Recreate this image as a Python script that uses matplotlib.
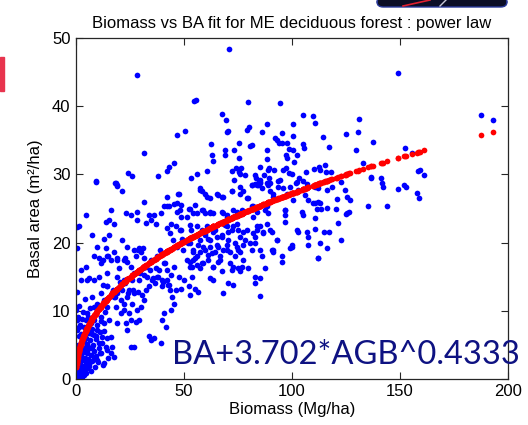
import numpy as np
import matplotlib
matplotlib.use("Agg")
import matplotlib.pyplot as plt
from matplotlib.patches import Rectangle, FancyBboxPatch
from matplotlib.lines import Line2D

# ---- field plots: above-ground biomass (Mg/ha) and basal area (m2/ha) ----
agb_high = [70.8, 28.4, 54.6, 55.5, 79.6, 67.7, 69.4, 69.8, 70.4, 79.0, 80.2, 46.9, 50.3, 62.3,
            75.3, 80.6, 81.6, 31.6, 62.8, 69.0, 69.0, 73.1, 75.3, 63.4, 45.5, 42.9, 42.3, 60.5,
            72.2, 74.2, 75.5, 76.4, 76.0, 78.3, 73.1, 24.1, 26.1, 38.1, 53.1, 55.9, 9.3, 17.9,
            18.8, 81.6]
ba_high = [48.3, 44.5, 40.7, 40.9, 40.6, 38.8, 37.9, 36.2, 36.3, 36.5, 36.9, 35.7, 36.3, 34.4,
           34.6, 34.1, 34.3, 33.2, 32.9, 33.5, 32.9, 33.5, 32.4, 31.9, 31.6, 31.1, 30.5, 30.5,
           30.5, 30.9, 30.3, 30.9, 30.1, 29.9, 29.2, 30.2, 29.7, 29.7, 29.5, 30.0, 29.0, 28.7,
           28.5, 28.4]

agb_right = [149.2, 94.6, 187.3, 193.1, 104.9, 109.9, 110.5, 130.9, 100.6, 88.6, 86.1, 95.5,
             100.5, 124.8, 130.4, 114.2, 92.1, 92.9, 94.0, 95.4, 97.7, 105.2, 105.7, 117.0,
             137.5, 98.8, 100.6, 88.6, 129.5, 152.3, 155.7, 97.1, 97.5, 102.2, 88.3, 100.8,
             132.7, 85.3, 89.4, 89.0, 91.5, 96.0, 97.1, 98.5, 100.2, 110.3, 113.0, 112.6,
             115.4, 115.6, 118.0, 106.3, 103.1, 158.2, 159.4, 161.3, 141.2, 136.7, 141.7,
             87.2, 83.0, 83.3, 84.6, 85.4, 83.0, 84.2, 89.3, 89.9, 93.4, 102.0, 105.1, 106.9,
             122.8, 152.0]
ba_right = [44.9, 40.4, 38.7, 38.0, 38.7, 38.5, 37.5, 38.1, 37.3, 37.3, 36.2, 36.0,
            35.6, 35.9, 36.2, 35.5, 35.3, 35.0, 34.6, 34.6, 34.6, 34.4, 33.8, 34.0,
            34.8, 33.7, 33.5, 33.5, 33.5, 33.8, 33.1, 32.8, 32.4, 32.9, 32.2, 31.8,
            31.6, 31.1, 31.0, 30.6, 30.7, 30.7, 31.0, 30.2, 30.1, 30.8, 30.6, 31.1,
            31.3, 30.4, 30.4, 30.3, 29.5, 30.5, 30.7, 29.9, 29.5, 29.5, 28.7,
            29.9, 29.9, 29.4, 29.1, 28.8, 28.6, 28.5, 29.4, 28.8, 29.1, 28.7, 29.0, 28.6,
            28.9, 28.4]

agb_mid_right = [136.6, 142.3, 149.2, 152.9, 157.9, 159.0, 118.4, 116.0, 111.9, 124.5, 125.3,
                 126.7, 120.7, 112.2, 110.6, 113.3, 116.0, 120.2, 135.0, 144.0, 124.9, 125.6,
                 126.4, 121.4, 115.0, 117.3, 122.5, 113.1, 116.0, 112.2, 110.6, 110.6]
ba_mid_right = [29.6, 28.1, 27.8, 28.1, 27.3, 26.6, 28.2, 27.7, 28.0, 27.7, 26.7,
                26.2, 26.4, 26.0, 25.8, 24.9, 25.1, 24.9, 25.4, 25.3, 24.2, 24.4,
                24.5, 22.9, 21.5, 21.6, 20.4, 20.0, 19.2, 17.8, 23.6, 22.0]

agb_mid = [57.4, 58.2, 59.7, 62.0, 65.9, 67.4, 72.1, 75.9, 77.5, 79.8, 81.3, 85.2, 86.0,
           89.0, 89.8, 91.4, 93.7, 96.0, 97.5, 99.1, 102.2, 103.0, 106.0, 107.6, 110.6,
           52.8, 55.1, 55.9, 58.2, 59.7, 62.0, 63.6, 68.2, 69.8, 70.5, 74.4, 76.7, 81.3,
           83.6, 88.3, 89.0, 96.8, 96.8, 104.5, 105.3, 109.9, 111.4, 113.0,
           52.8, 55.9, 58.2, 59.7, 61.3, 63.6, 65.1, 67.4, 69.8, 70.5, 72.8, 75.2, 77.5,
           78.2, 82.1, 83.6, 85.2, 86.7, 90.6, 92.9, 96.8, 103.0, 106.8, 107.6,
           52.8, 54.3, 55.1, 56.6, 57.4, 59.7, 61.3, 62.0, 64.4, 65.1, 66.7, 68.2, 69.8,
           71.3, 73.6, 74.4, 75.9, 77.5, 81.3, 82.9, 86.0, 90.6, 91.4, 95.2, 99.1, 99.9,
           107.6, 112.2,
           52.8, 54.3, 55.9, 57.4, 59.0, 61.3, 63.6, 65.9, 67.4, 71.3, 72.1, 75.2, 76.7,
           75.9, 79.8, 82.9, 85.2, 87.5, 62.0, 53.5,
           55.1, 56.6, 63.6, 68.2, 70.5, 72.8, 82.9, 85.2, 52.8]
ba_mid = [28.0, 27.5, 27.2, 26.5, 27.0, 26.7, 27.5, 28.2, 27.5, 26.5, 28.4, 28.9, 28.0,
          28.4, 27.5, 26.7, 28.2, 28.0, 27.2, 28.2, 28.9, 27.7, 27.0, 26.3, 28.2,
          25.0, 25.5, 24.3, 24.8, 24.3, 24.5, 24.3, 24.3, 24.1, 23.3, 24.5, 24.8, 25.3,
          24.5, 25.3, 24.3, 24.8, 24.1, 24.5, 24.1, 25.8, 25.0, 25.8,
          22.6, 22.4, 21.9, 21.1, 20.6, 21.6, 20.9, 21.1, 22.4, 21.6, 22.4, 21.9, 21.6,
          20.4, 21.4, 21.9, 22.4, 21.6, 21.6, 20.4, 23.1, 21.6, 21.6, 20.9,
          19.9, 18.7, 17.7, 19.7, 18.7, 18.9, 18.2, 19.4, 18.7, 19.7, 18.0, 18.9, 19.7,
          18.7, 18.0, 19.4, 18.7, 19.7, 18.9, 19.9, 18.0, 18.9, 18.7, 17.2, 19.2, 19.7,
          19.7, 17.7,
          17.2, 17.5, 16.7, 16.3, 17.0, 17.5, 16.5, 17.2, 15.8, 17.0, 16.0, 16.3, 16.5,
          15.8, 16.3, 15.0, 14.8, 16.3, 14.8, 15.0,
          13.3, 12.8, 14.5, 12.7, 14.1, 13.8, 14.1, 12.2, 12.4]

agb_band = [12.65, 14.2, 17.3, 18.05, 20.4, 22.7, 24.2, 25.8, 26.5, 28.9, 29.6, 31.2, 32.7,
            34.3, 35.8, 36.6, 38.1, 39.7, 40.4, 42.7, 43.5, 44.3, 37.3, 38.9, 41.2, 42.0,
            28.9, 31.2, 22.7, 18.8, 15.0, 12.65,
            43.5, 45.0, 46.6, 48.1, 48.9, 49.7, 51.2, 52.0, 52.8, 54.3, 55.9, 57.4, 58.2,
            59.0, 59.7, 60.5, 62.0, 62.8, 63.6, 64.4, 65.9, 66.7, 67.4, 69.0, 69.8, 70.5,
            72.1, 72.8, 73.6, 74.4, 75.2, 75.9, 77.5, 79.0, 80.6, 82.1, 82.9, 83.6, 85.2,
            86.7, 88.3, 89.8, 91.4, 92.9, 95.2, 99.8,
            42.0, 46.6, 47.4, 48.1, 51.2, 54.3, 57.4, 59.0, 60.5, 62.0, 65.1, 67.4, 68.2,
            69.8, 72.1, 72.8, 75.9, 77.5, 79.0, 82.1, 83.6, 85.2, 87.5, 88.3, 91.4, 94.4,
            96.8, 100.6, 102.2]
ba_band = [13.8, 13.6, 13.1, 12.1, 14.3, 14.1, 12.6, 14.5, 13.1, 12.8, 15.5, 16.3, 15.0,
           16.0, 14.8, 14.1, 15.0, 13.6, 14.3, 13.8, 13.1, 12.1, 18.0, 18.9, 17.0, 16.0,
           18.9, 19.2, 17.7, 17.5, 18.0, 17.5,
           21.4, 20.4, 19.4, 21.9, 20.6, 18.9, 17.5, 19.9, 16.5, 18.9, 18.0, 20.4, 17.0,
           19.4, 21.4, 22.4, 20.4, 18.5, 16.5, 21.9, 19.4, 17.5, 20.9, 22.6, 18.9, 20.4,
           21.9, 16.5, 19.9, 22.8, 18.9, 20.9, 17.5, 21.9, 19.9, 23.8, 20.9, 22.4, 18.9,
           21.4, 22.8, 21.9, 18.9, 20.4, 18.0, 19.4,
           25.3, 25.8, 27.2, 24.8, 23.8, 24.3, 27.7, 24.8, 26.7, 24.3, 27.2, 24.5, 26.7,
           23.8, 27.5, 24.8, 27.2, 24.3, 26.5, 25.3, 28.5, 29.2, 24.8, 28.7, 27.2, 29.2,
           24.8, 26.2, 21.9]

agb_left = [9.1, 18.4, 19.1, 21.4, 4.5, 1.4, 16.1, 15.3, 13.7, 17.6, 23.0, 25.3, 28.4, 31.5,
            28.4, 33.8, 36.1, 36.9, 32.3, 34.6, 39.2, 40.7, 43.1, 42.3, 45.4, 47.7, 48.5,
            46.9, 48.5, 43.8, 46.1, 42.3, 48.5, 53.1, 52.3,
            0.6, 2.2, 4.5, 5.2, 7.6, 8.3, 9.9, 10.6, 11.4, 13.7, 14.5, 16.1, 17.6, 19.1,
            19.9, 21.4, 22.2, 23.8, 23.8, 25.3, 26.8, 27.6, 29.2, 30.0, 31.5, 32.3, 34.6,
            36.9, 37.7, 38.4, 40.0, 42.3, 43.1, 43.8, 45.4, 46.1, 47.7, 48.5, 50.0, 52.3,
            53.9, 26.8, 29.2, 31.5, 33.8, 35.3, 40.7, 22.2, 19.1, 14.5, 10.6, 8.3, 6.0,
            2.2, 13.0, 15.3, 24.5]
ba_left = [28.9, 28.7, 28.3, 27.5, 24.1, 22.4, 24.8, 23.3, 23.1, 22.8, 24.4, 24.1, 24.5, 26.0,
           23.3, 24.1, 24.1, 22.8, 22.9, 23.3, 24.3, 25.3, 25.4, 26.7, 25.7, 27.2, 25.5,
           24.5, 23.8, 22.8, 22.4, 22.1, 21.9, 21.9, 25.0,
           19.2, 16.0, 16.5, 14.5, 21.1, 18.0, 19.4, 17.7, 17.0, 19.2, 18.0, 17.5, 18.7, 17.7,
           16.3, 20.4, 17.5, 19.4, 17.2, 16.5, 18.9, 18.0, 19.2, 18.7, 17.7, 16.5, 17.5,
           16.3, 15.0, 16.0, 14.5, 14.5, 13.8, 15.3, 16.5, 13.1, 15.0, 13.3, 14.5, 13.6,
           16.5, 15.5, 14.5, 15.3, 13.6, 14.5, 17.0, 14.5, 15.0, 15.5, 15.0, 14.5, 14.8,
           14.5, 20.6, 21.1, 13.1]

agb_low = [0.2, 0.6, 1.4, 2.2, 2.9, 3.7, 4.5, 5.2, 6.0, 6.8, 7.6, 8.3, 9.1, 9.9, 10.6, 11.4,
           12.2, 13.0, 13.7, 14.5, 15.3, 16.1, 16.8, 17.6, 18.4, 19.1, 20.7, 22.2, 23.0, 23.8,
           24.5, 25.3, 26.1, 26.8, 28.4, 29.2, 30.0, 30.7, 31.5, 32.3, 33.8, 34.6, 36.1, 39.2,
           40.0, 40.7, 41.5, 43.8, 45.4, 7.6, 8.3, 9.9, 11.4, 13.0, 14.5, 16.8, 19.1, 20.7,
           21.4, 22.2, 23.8, 25.3, 26.8, 27.6, 16.1, 17.6, 11.4, 5.2, 2.2, 0.6, 0.2, 1.4,
           3.7, 6.0, 8.3, 9.9, 13.0, 14.5, 4.5, 7.6]
ba_low = [10.2, 8.7, 7.7, 6.7, 6.2, 7.7, 8.7, 9.7, 7.7, 8.2, 6.7, 8.7, 6.3, 7.2, 5.3, 9.2,
          6.2, 8.2, 4.8, 10.6, 8.7, 6.2, 4.8, 12.1, 10.6, 8.2, 9.7, 11.1, 8.2, 12.1,
          9.7, 4.8, 11.1, 12.6, 10.2, 8.7, 10.6, 12.4, 11.6, 13.1, 6.3, 5.8, 6.0, 5.3,
          8.7, 9.7, 7.7, 10.2, 11.1, 12.1, 10.6, 11.1, 12.6, 11.6, 13.6, 12.6, 12.6, 11.6,
          13.1, 10.2, 7.2, 8.7, 4.8, 8.4, 3.8, 3.3, 3.8, 3.8, 3.8, 2.4, 1.4, 0.9,
          1.4, 1.9, 3.3, 2.8, 2.4, 4.3, 4.8, 4.8]

agb_origin = [0.2, 0.4, 0.3, 0.6, 0.5, 0.8, 1.0, 1.1, 0.9, 1.3, 1.5, 1.6, 1.8, 2.0, 2.1, 2.3,
              2.5, 2.6, 2.8, 3.0, 3.2, 3.4, 3.5, 3.7, 3.9, 4.1, 4.2, 4.5, 4.6, 4.8, 5.0, 5.2,
              5.4, 5.6, 5.9, 6.1, 6.3, 6.6, 6.8, 7.0, 7.3, 7.6, 7.9, 8.2, 8.5, 8.8, 9.1, 9.4,
              9.8, 10.2, 10.5, 10.9, 11.3, 11.7, 12.1, 12.6, 13.1, 13.6, 14.2, 14.8,
              0.7, 1.2, 0.4, 1.9, 0.9, 2.7, 0.5, 0.6, 1.4, 3.1, 4.0, 5.6, 6.4]
ba_origin = [0.3, 0.8, 1.6, 2.2, 0.1, 0.5, 1.2, 2.9, 3.6, 0.6, 1.8, 4.1, 0.9, 2.5, 3.3, 1.4,
             5.0, 0.4, 2.0, 3.9, 1.1, 2.8, 5.6, 0.7, 4.4, 1.9, 3.2, 6.1, 2.4, 0.9, 4.0, 5.2,
             1.6, 3.0, 6.8, 2.2, 4.6, 5.7, 1.2, 3.6, 7.4, 2.7, 5.0, 4.1, 6.5, 1.8, 3.4, 5.9,
             7.9, 2.6, 4.6, 6.9, 3.9, 8.6, 5.3, 2.1, 7.1, 9.9, 6.0, 3.1,
             5.1, 6.3, 7.3, 7.9, 9.2, 8.9, 12.8, 22.3, 10.8, 9.9, 11.7, 9.1, 10.4]

# power-law fit BA = a * AGB^b
fit_coef = 3.702
fit_expo = 0.4333
fit_label = "BA+3.702*AGB^0.4333"

x_ticks = [0, 50, 100, 150, 200]
y_ticks = [0, 10, 20, 30, 40, 50]

title = "Biomass vs BA fit for ME deciduous forest : power law"
xlabel = "Biomass (Mg/ha)"
ylabel = "Basal area (m\u00b2/ha)"

agb = np.array(agb_high + agb_right + agb_mid_right + agb_mid + agb_band + agb_left
               + agb_low + agb_origin)
ba = np.array(ba_high + ba_right + ba_mid_right + ba_mid + ba_band + ba_left
              + ba_low + ba_origin)
ba_fit = fit_coef * agb ** fit_expo

plt.rcParams["font.family"] = ["Liberation Sans", "DejaVu Sans"]

W, H = 528, 425
fig = plt.figure(figsize=(W / 100, H / 100), dpi=100)
ax = fig.add_axes([76 / W, 1 - 379.4 / H, 432 / W, 341.7 / H])

ax.plot(agb, ba, ls="none", marker="o", ms=4.1, mew=0, color="#0000ff")
ax.plot(agb, ba_fit, ls="none", marker="o", ms=4.1, mew=0, color="#ff0000")

ax.set_xlim(0, 200)
ax.set_ylim(0, 50)
ax.set_xticks(x_ticks)
ax.set_yticks(y_ticks)
ax.tick_params(direction="in", length=5, width=0.8, top=True, right=True,
               labelsize=12, colors="#262626", labelcolor="black")
ax.tick_params(axis="x", pad=3.5)
ax.tick_params(axis="y", pad=4)
for s in ax.spines.values():
    s.set_color("#262626")
    s.set_linewidth(0.9)

ax.set_xlabel(xlabel, fontsize=12, labelpad=2)
ax.set_ylabel(ylabel, fontsize=12, labelpad=6)
ax.set_title(title, fontsize=12, pad=7)

fig.text(172 / W, 1 - 364 / H, fit_label, fontfamily="Lato", fontsize=23.5,
         color="#0e1282", va="baseline", ha="left")

# slide decorations around the chart
fig.patches.append(Rectangle((0, 1 - 91 / H), 4 / W, 34 / H, transform=fig.transFigure,
                             color="#e8344e", zorder=0))
fig.patches.append(FancyBboxPatch((377 / W, 1 - 7 / H), 130 / W, 10 / H,
                                  boxstyle="round,pad=0,rounding_size=0.012",
                                  transform=fig.transFigure, facecolor="#0b0e26",
                                  edgecolor="#2a3a9a", lw=1, zorder=0))
fig.lines.append(Line2D([403 / W, 430 / W], [1 - 6 / H, 1.0], transform=fig.transFigure,
                        color="#e02030", lw=1.2))
fig.lines.append(Line2D([440 / W, 446 / W], [1 - 6 / H, 1.0], transform=fig.transFigure,
                        color="#c8c8d8", lw=1.0))

fig.savefig("out.png", dpi=100)
